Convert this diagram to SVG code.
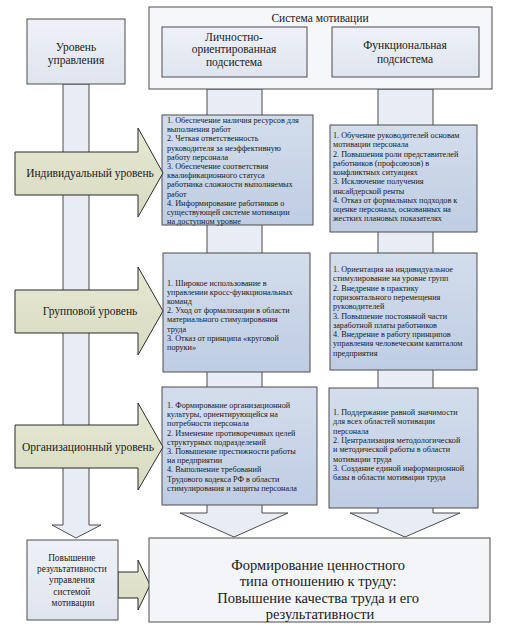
<svg xmlns="http://www.w3.org/2000/svg" width="510" height="631" viewBox="0 0 510 631" font-family="'Liberation Serif', 'DejaVu Serif', serif">
<defs>
<linearGradient id="gBox" x1="0" y1="0" x2="0" y2="1"><stop offset="0" stop-color="#d3ddec"/><stop offset="1" stop-color="#bfcde3"/></linearGradient>
<linearGradient id="gHead" x1="0" y1="0" x2="0" y2="1"><stop offset="0" stop-color="#eef1f7"/><stop offset="1" stop-color="#dfe5ef"/></linearGradient>
<linearGradient id="gGreen" x1="0" y1="0" x2="0" y2="1"><stop offset="0" stop-color="#e6e8d3"/><stop offset="1" stop-color="#d8dbc0"/></linearGradient>
<style>
text{font-family:'Liberation Serif','DejaVu Serif',serif;fill:#1a1a1a}
.s{font-size:8.2px}
.h{font-size:11.5px;text-anchor:middle}
.lv{font-size:11.5px;text-anchor:middle}
.box{fill:url(#gBox);stroke:#4d4d4d;stroke-width:1}
.hd{fill:url(#gHead);stroke:#4d4d4d;stroke-width:1}
.bar{fill:#e7ecf5;stroke:#4d4d4d;stroke-width:1}
.gr{fill:url(#gGreen);stroke:#2b2b2b;stroke-width:1}
</style>
</defs>
<rect width="510" height="631" fill="#ffffff"/>
<g id="connectors">
<path class="bar" d="M63,84 L63,525 L52,525 L76,538 L101,525 L89,525 L89,84 Z"/>
<path class="bar" d="M207,89 L207,513 L180,513 L234,537 L288,513 L262,513 L262,89 Z"/>
<path class="bar" d="M378,89 L378,513 L350,513 L405,537 L460,513 L433,513 L433,89 Z"/>
<path class="gr" d="M118,572 L138,572 L138,560 L150,585 L138,610 L138,598 L118,598 Z"/>
</g>
<g id="level-header">
<rect class="hd" x="27" y="19" width="98" height="65"/>
<text class="h" x="76" y="51">Уровень</text>
<text class="h" x="76" y="64">управления</text>
</g>
<g id="system-header">
<rect x="149" y="7" width="343" height="82" fill="#f6f7fa" stroke="#4d4d4d"/>
<text class="h" x="320" y="22">Система мотивации</text>
</g>
<g id="personal-sub">
<rect class="hd" x="162" y="27" width="145" height="50"/>
<text class="h" x="234" y="41">Личностно-</text>
<text class="h" x="234" y="53">ориентированная</text>
<text class="h" x="234" y="66">подсистема</text>
</g>
<g id="functional-sub">
<rect class="hd" x="332" y="27" width="147" height="50"/>
<text class="h" x="405" y="49">Функциональная</text>
<text class="h" x="405" y="63">подсистема</text>
</g>
<g id="box-ind-left">
<rect class="box" x="162" y="115" width="151" height="110"/>
<text class="s" x="167" y="123">
<tspan x="167" dy="0">1. Обеспечение наличия ресурсов для</tspan>
<tspan x="167" dy="9.2">выполнения работ</tspan>
<tspan x="167" dy="9.2">2. Четкая ответственность</tspan>
<tspan x="167" dy="9.2">руководителя за неэффективную</tspan>
<tspan x="167" dy="9.2">работу персонала</tspan>
<tspan x="167" dy="9.2">3. Обеспечение соответствия</tspan>
<tspan x="167" dy="9.2">квалификационного статуса</tspan>
<tspan x="167" dy="9.2">работника сложности выполняемых</tspan>
<tspan x="167" dy="9.2">работ</tspan>
<tspan x="167" dy="9.2">4. Информирование работников о</tspan>
<tspan x="167" dy="9.2">существующей системе мотивации</tspan>
<tspan x="167" dy="9.2">на доступном уровне</tspan>
</text>
</g>
<g id="box-ind-right">
<rect class="box" x="330" y="125" width="147" height="107"/>
<text class="s" x="333" y="138">
<tspan x="333" dy="0">1. Обучение руководителей основам</tspan>
<tspan x="333" dy="9.25">мотивации персонала</tspan>
<tspan x="333" dy="9.25">2. Повышения роли представителей</tspan>
<tspan x="333" dy="9.25">работников (профсоюзов) в</tspan>
<tspan x="333" dy="9.25">конфликтных ситуациях</tspan>
<tspan x="333" dy="9.25">3. Исключение получения</tspan>
<tspan x="333" dy="9.25">инсайдерской ренты</tspan>
<tspan x="333" dy="9.25">4. Отказ от формальных подходов к</tspan>
<tspan x="333" dy="9.25">оценке персонала, основанных на</tspan>
<tspan x="333" dy="9.25">жестких плановых показателях</tspan>
</text>
</g>
<g id="box-grp-left">
<rect class="box" x="163" y="253" width="147" height="119"/>
<text class="s" x="167" y="286">
<tspan x="167" dy="0">1. Широкое использование в</tspan>
<tspan x="167" dy="9.1">управлении кросс-функциональных</tspan>
<tspan x="167" dy="9.1">команд</tspan>
<tspan x="167" dy="9.1">2. Уход от формализации в области</tspan>
<tspan x="167" dy="9.1">материального стимулирования</tspan>
<tspan x="167" dy="9.1">труда</tspan>
<tspan x="167" dy="9.1">3. Отказ от принципа «круговой</tspan>
<tspan x="167" dy="9.1">поруки»</tspan>
</text>
</g>
<g id="box-grp-right">
<rect class="box" x="330" y="253" width="147" height="117"/>
<text class="s" x="333" y="272">
<tspan x="333" dy="0">1. Ориентация на индивидуальное</tspan>
<tspan x="333" dy="9.3">стимулирование на уровне групп</tspan>
<tspan x="333" dy="9.3">2. Внедрение в практику</tspan>
<tspan x="333" dy="9.3">горизонтального перемещения</tspan>
<tspan x="333" dy="9.3">руководителей</tspan>
<tspan x="333" dy="9.3">3. Повышение постоянной части</tspan>
<tspan x="333" dy="9.3">заработной платы работников</tspan>
<tspan x="333" dy="9.3">4. Внедрение в работу принципов</tspan>
<tspan x="333" dy="9.3">управления человеческим капиталом</tspan>
<tspan x="333" dy="9.3">предприятия</tspan>
</text>
</g>
<g id="box-org-left">
<rect class="box" x="162" y="387" width="155" height="118"/>
<text class="s" x="167" y="408">
<tspan x="167" dy="0">1. Формирование организационной</tspan>
<tspan x="167" dy="9.2">культуры, ориентирующейся на</tspan>
<tspan x="167" dy="9.2">потребности персонала</tspan>
<tspan x="167" dy="9.2">2. Изменение противоречивых целей</tspan>
<tspan x="167" dy="9.2">структурных подразделений</tspan>
<tspan x="167" dy="9.2">3. Повышение престижности работы</tspan>
<tspan x="167" dy="9.2">на предприятии</tspan>
<tspan x="167" dy="9.2">4. Выполнение требований</tspan>
<tspan x="167" dy="9.2">Трудового кодекса РФ в области</tspan>
<tspan x="167" dy="9.2">стимулирования и защиты персонала</tspan>
</text>
</g>
<g id="box-org-right">
<rect class="box" x="329" y="388" width="149" height="120"/>
<text class="s" x="333" y="415">
<tspan x="333" dy="0">1. Поддержание равной  значимости</tspan>
<tspan x="333" dy="9.3">для всех областей мотивации</tspan>
<tspan x="333" dy="9.3">персонала</tspan>
<tspan x="333" dy="9.3">2. Централизация методологической</tspan>
<tspan x="333" dy="9.3">и методической работы в области</tspan>
<tspan x="333" dy="9.3">мотивации труда</tspan>
<tspan x="333" dy="9.3">3. Создание единой информационной</tspan>
<tspan x="333" dy="9.3">базы в области мотивации труда</tspan>
</text>
</g>
<g id="level-individual">
<path class="gr" d="M15,152 L138,152 L138,128 L163,173 L138,217 L138,195 L15,195 Z"/>
<text class="lv" x="90" y="177">Индивидуальный уровень</text>
</g>
<g id="level-group">
<path class="gr" d="M15,290 L138,290 L138,267 L163,311 L138,355 L138,333 L15,333 Z"/>
<text class="lv" x="90" y="315">Групповой уровень</text>
</g>
<g id="level-org">
<path class="gr" d="M15,425 L138,425 L138,403 L163,447 L138,490 L138,468 L15,468 Z"/>
<text class="lv" x="88" y="451">Организационный уровень</text>
</g>
<g id="result-mgmt">
<rect class="hd" x="27" y="540" width="91" height="80"/>
<text font-size="9.3" text-anchor="middle" x="73" y="561">
<tspan x="73" dy="0">Повышение</tspan>
<tspan x="73" dy="11.2">результативности</tspan>
<tspan x="73" dy="11.2">управления</tspan>
<tspan x="73" dy="11.2">системой</tspan>
<tspan x="73" dy="11.2">мотивации</tspan>
</text>
</g>
<g id="result-main">
<rect x="149" y="538" width="341" height="84" fill="#f3f5f9" stroke="#4d4d4d"/>
<text font-size="14.5" text-anchor="middle" x="320" y="570">
<tspan x="320" dy="0">Формирование ценностного</tspan>
<tspan x="320" dy="16">типа отношению к труду:</tspan>
<tspan x="320" dy="16.5">Повышение качества труда и его</tspan>
<tspan x="320" dy="16">результативности</tspan>
</text>
</g>
</svg>
